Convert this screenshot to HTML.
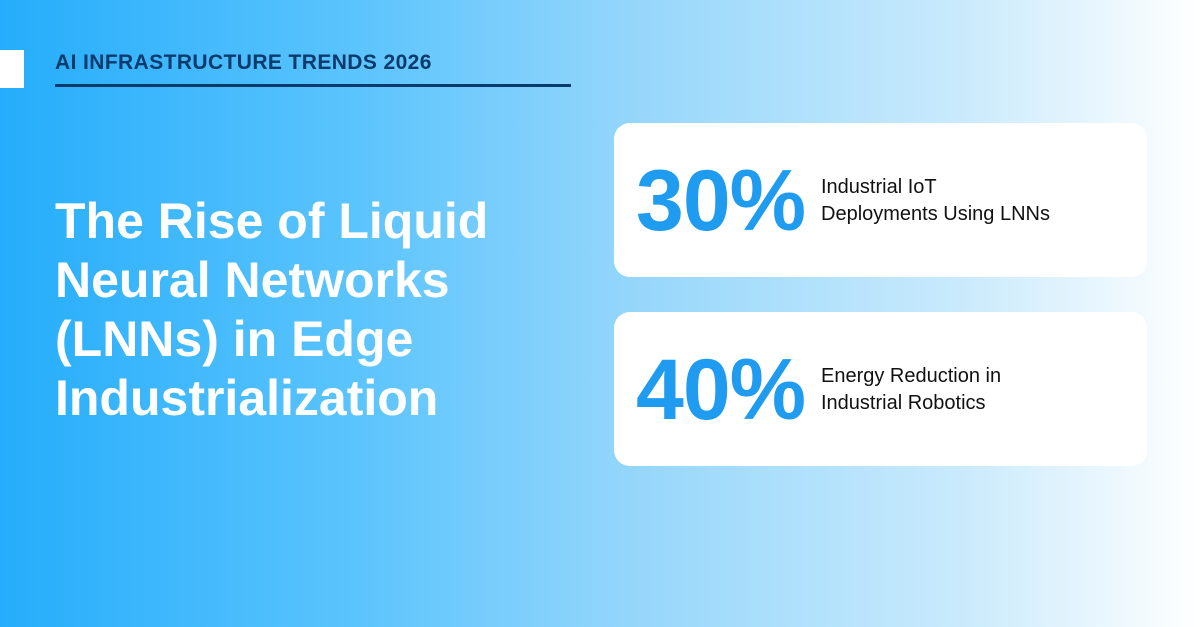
<!DOCTYPE html>
<html><head><meta charset="utf-8"><style>
body{margin:0;width:1200px;height:627px;overflow:hidden;font-family:"Liberation Sans",sans-serif;
background:linear-gradient(90deg,#25adfb 0%,#5cc4fc 30%,#9ad8fb 55%,#c9eafc 80%,#ffffff 100%);position:relative}
.sq{position:absolute;left:0;top:50px;width:24px;height:38px;background:#fff}
.hd{position:absolute;left:55px;top:51px;font-size:21px;font-weight:bold;color:#0b3a6c;letter-spacing:0.4px}
.ul{position:absolute;left:55px;top:84px;width:516px;height:3px;background:#0b3a6c}
.t{position:absolute;left:55px;top:192px;font-size:50px;line-height:59px;font-weight:bold;color:#fff;letter-spacing:0}
.c{position:absolute;left:614px;width:533px;height:154px;background:#fff;border-radius:16px}
.n{position:absolute;left:22px;top:28px;font-size:86px;font-weight:bold;color:#1f9bf0;letter-spacing:-1px;line-height:100px}
.l{position:absolute;left:207px;top:51px;font-size:20px;line-height:27px;color:#111}
</style></head><body>
<div class="sq"></div>
<div class="hd">AI INFRASTRUCTURE TRENDS 2026</div>
<div class="ul"></div>
<div class="t">The Rise of Liquid<br>Neural Networks<br>(LNNs) in Edge<br>Industrialization</div>
<div class="c" style="top:123px"><div class="n">30%</div><div class="l">Industrial IoT<br>Deployments Using LNNs</div></div>
<div class="c" style="top:312px"><div class="n">40%</div><div class="l">Energy Reduction in<br>Industrial Robotics</div></div>
</body></html>
